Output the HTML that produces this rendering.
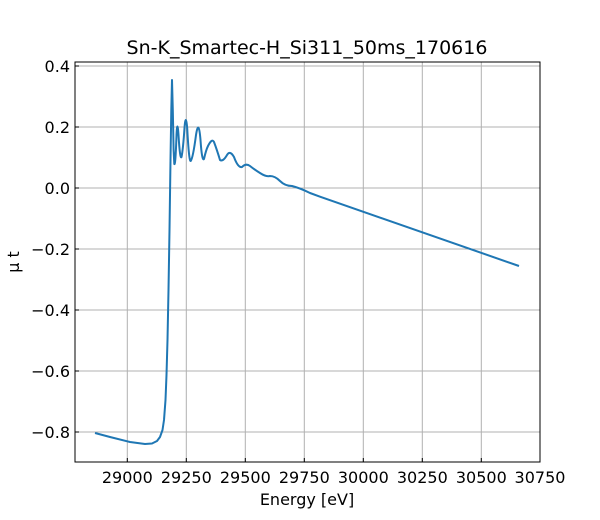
<!DOCTYPE html>
<html><head><style>body{margin:0;background:#fff}svg{display:block}</style></head><body>
<svg width="600" height="520" xmlns="http://www.w3.org/2000/svg" font-family="DejaVu Sans, Liberation Sans, sans-serif">
<rect width="600" height="520" fill="#fff"/>
<g stroke="#b0b0b0" stroke-width="1">
<line x1="127.3" y1="62" x2="127.3" y2="462"/><line x1="186.3" y1="62" x2="186.3" y2="462"/>
<line x1="245.3" y1="62" x2="245.3" y2="462"/><line x1="304.3" y1="62" x2="304.3" y2="462"/>
<line x1="363.3" y1="62" x2="363.3" y2="462"/><line x1="422.3" y1="62" x2="422.3" y2="462"/>
<line x1="481.3" y1="62" x2="481.3" y2="462"/>
<line x1="75" y1="66" x2="540" y2="66"/><line x1="75" y1="127" x2="540" y2="127"/>
<line x1="75" y1="188" x2="540" y2="188"/><line x1="75" y1="249" x2="540" y2="249"/>
<line x1="75" y1="310" x2="540" y2="310"/><line x1="75" y1="371" x2="540" y2="371"/>
<line x1="75" y1="432" x2="540" y2="432"/>
</g>
<path fill="none" stroke="#1f77b4" stroke-width="2" stroke-linejoin="round" d="M95,433 L110,437 L130,442 L145,444 L152,443.5 L157,441 L160,437 L162.5,430 L164,420 L165.5,400 L166.5,375 L167.5,340 L168.5,290 L169.5,230 L170.5,160 L171.3,110 L172,80 L172.8,110 L173.6,150 L174.3,164 Q175.5,166 176.5,135 Q177.3,118 178.5,135 Q180,160 181.5,157 Q183,150 184.5,128 Q185.7,112 187.2,128 Q189,162 190.7,161 Q193,158 196,135 Q198.7,118 200.5,140 Q202,162 204,159 Q206,150 208,146 Q212,138 214,142 Q217,150 220,160 Q223,162 227,155 Q230,150 234,157 Q238,168 242,167 Q246,163 250,166 Q255,170 260,173 Q266,177 270,176 Q275,176 280,181 Q285,186 292,186 Q300,188 310,193 L320,196.7 L519,266"/>
<rect x="75" y="62" width="465" height="400" fill="none" stroke="#000" stroke-width="1"/>
<g stroke="#000" stroke-width="1">
<line x1="127.3" y1="462" x2="127.3" y2="458"/><line x1="186.3" y1="462" x2="186.3" y2="458"/>
<line x1="245.3" y1="462" x2="245.3" y2="458"/><line x1="304.3" y1="462" x2="304.3" y2="458"/>
<line x1="363.3" y1="462" x2="363.3" y2="458"/><line x1="422.3" y1="462" x2="422.3" y2="458"/>
<line x1="481.3" y1="462" x2="481.3" y2="458"/><line x1="540" y1="462" x2="540" y2="458"/>
<line x1="75" y1="66" x2="79" y2="66"/><line x1="75" y1="127" x2="79" y2="127"/>
<line x1="75" y1="188" x2="79" y2="188"/><line x1="75" y1="249" x2="79" y2="249"/>
<line x1="75" y1="310" x2="79" y2="310"/><line x1="75" y1="371" x2="79" y2="371"/>
<line x1="75" y1="432" x2="79" y2="432"/>
</g>
<g font-size="16" fill="#000" text-anchor="middle">
<text x="127.3" y="483">29000</text><text x="186.3" y="483">29250</text>
<text x="245.3" y="483">29500</text><text x="304.3" y="483">29750</text>
<text x="363.3" y="483">30000</text><text x="422.3" y="483">30250</text>
<text x="481.3" y="483">30500</text><text x="540" y="483">30750</text>
<text x="307" y="505">Energy [eV]</text>
<text x="307" y="54" font-size="19">Sn-K_Smartec-H_Si311_50ms_170616</text>
</g>
<g font-size="16" fill="#000" text-anchor="end">
<text x="70" y="72">0.4</text><text x="70" y="133">0.2</text><text x="70" y="194">0.0</text>
<text x="70" y="255">−0.2</text><text x="70" y="316">−0.4</text><text x="70" y="377">−0.6</text>
<text x="70" y="438">−0.8</text>
</g>
<text x="19" y="262" font-size="16" text-anchor="middle" transform="rotate(-90 19 262)">μ t</text>
</svg>
</body></html>
